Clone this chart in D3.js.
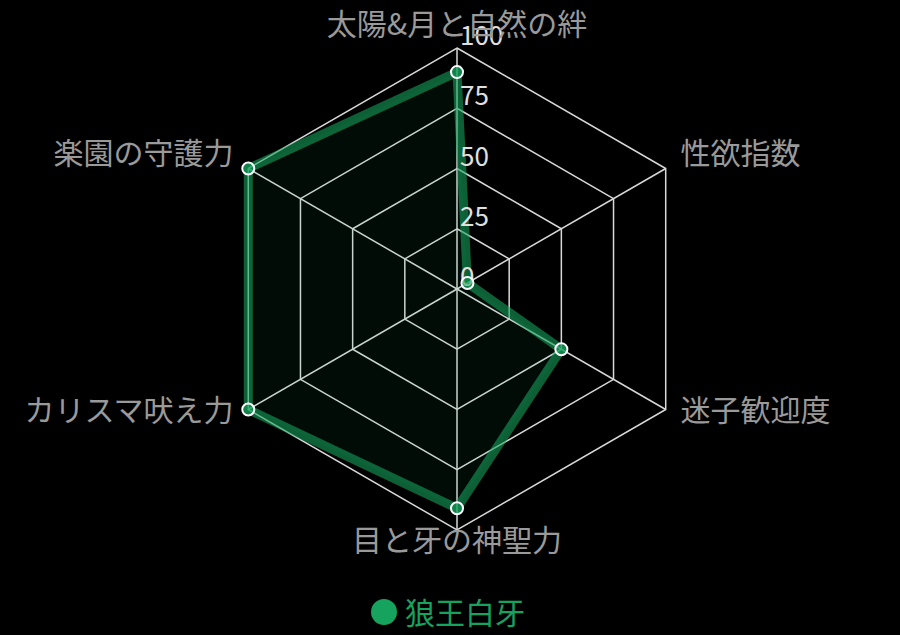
<!DOCTYPE html>
<html><head><meta charset="utf-8">
<script src="https://cdn.jsdelivr.net/npm/d3@7"></script>
<style>html,body{margin:0;padding:0;background:#000;}svg{display:block;}</style>
</head><body>
<svg id="c" width="900" height="635"></svg>
<script>
const categories = ["太陽&月と自然の絆","性欲指数","迷子歓迎度","目と牙の神聖力","カリスマ吠え力","楽園の守護力"];
const seriesName = "狼王白牙";
const values = [90, 5, 50, 91, 100, 100];
const tickValues = [0, 25, 50, 75, 100];

const W = 900, H = 635, cx = 457, cy = 289, R = 241;
const font = "'Noto Sans CJK JP','Noto Sans',sans-serif";
const svg = d3.select("#c");
svg.append("rect").attr("width", W).attr("height", H).attr("fill", "#000");

const r = d3.scaleLinear().domain([0, 100]).range([0, R]);
const ang = d3.scalePoint().domain(categories.map((d,i)=>i)).range([0, 2*Math.PI*(categories.length-1)/categories.length]);
const pt = (i, v) => [cx + r(v)*Math.sin(ang(i)), cy - r(v)*Math.cos(ang(i))];

const g = svg.append("g");
// grid rings
tickValues.filter(t => t > 0).forEach(t => {
  g.append("polygon")
    .attr("points", categories.map((c,i)=>pt(i,t).join(",")).join(" "))
    .attr("fill", "none").attr("stroke", "#d8d8d8").attr("stroke-width", 1.5);
});
// spokes
categories.forEach((c,i) => {
  const [x,y] = pt(i, 100);
  g.append("line").attr("x1", cx).attr("y1", cy).attr("x2", x).attr("y2", y)
    .attr("stroke", "#d8d8d8").attr("stroke-width", 1.5);
});

// data area
const line = d3.line().curve(d3.curveLinearClosed);
const dpts = values.map((v,i)=>pt(i,v));
g.append("path").attr("d", line(dpts))
  .attr("fill", "rgba(22,163,93,0.07)")
  .attr("stroke", "rgba(22,163,93,0.58)").attr("stroke-width", 9)
  .attr("stroke-linejoin", "miter");

// tick labels
tickValues.forEach(t => {
  g.append("text").attr("x", cx + 3).attr("y", cy - r(t) - 3)
    .attr("fill", "#e0e0e0").attr("font-family", font).attr("font-size", 26)
    .text(t);
});

// points
g.selectAll("circle.pt").data(dpts).enter().append("circle")
  .attr("cx", d=>d[0]).attr("cy", d=>d[1]).attr("r", 6)
  .attr("fill", "rgba(22,163,93,0.55)").attr("stroke", "#fff").attr("stroke-width", 2);

// axis labels
categories.forEach((c,i) => {
  const a = ang(i);
  const [x,y] = pt(i, 100);
  const s = Math.sin(a), co = Math.cos(a);
  let anchor = Math.abs(s) < 0.01 ? "middle" : (s > 0 ? "start" : "end");
  let tx = x + s*17, ty;
  if (Math.abs(s) < 0.01) { ty = co > 0 ? y - 26 : y + 8; }
  else { ty = co > 0 ? y - 18 : y - 2; }
  g.append("text").attr("x", tx).attr("y", ty)
    .attr("text-anchor", anchor).attr("dominant-baseline", "central")
    .attr("fill", "#9a9a9a").attr("font-family", font).attr("font-size", 30)
    .text(c);
});

// legend
const lg = svg.append("g");
lg.append("circle").attr("cx", 384).attr("cy", 612).attr("r", 13).attr("fill", "#16a35d");
lg.append("text").attr("x", 405).attr("y", 611).attr("dominant-baseline", "central")
  .attr("fill", "#16a35d").attr("font-family", font).attr("font-size", 30).text(seriesName);
</script>
</body></html>
